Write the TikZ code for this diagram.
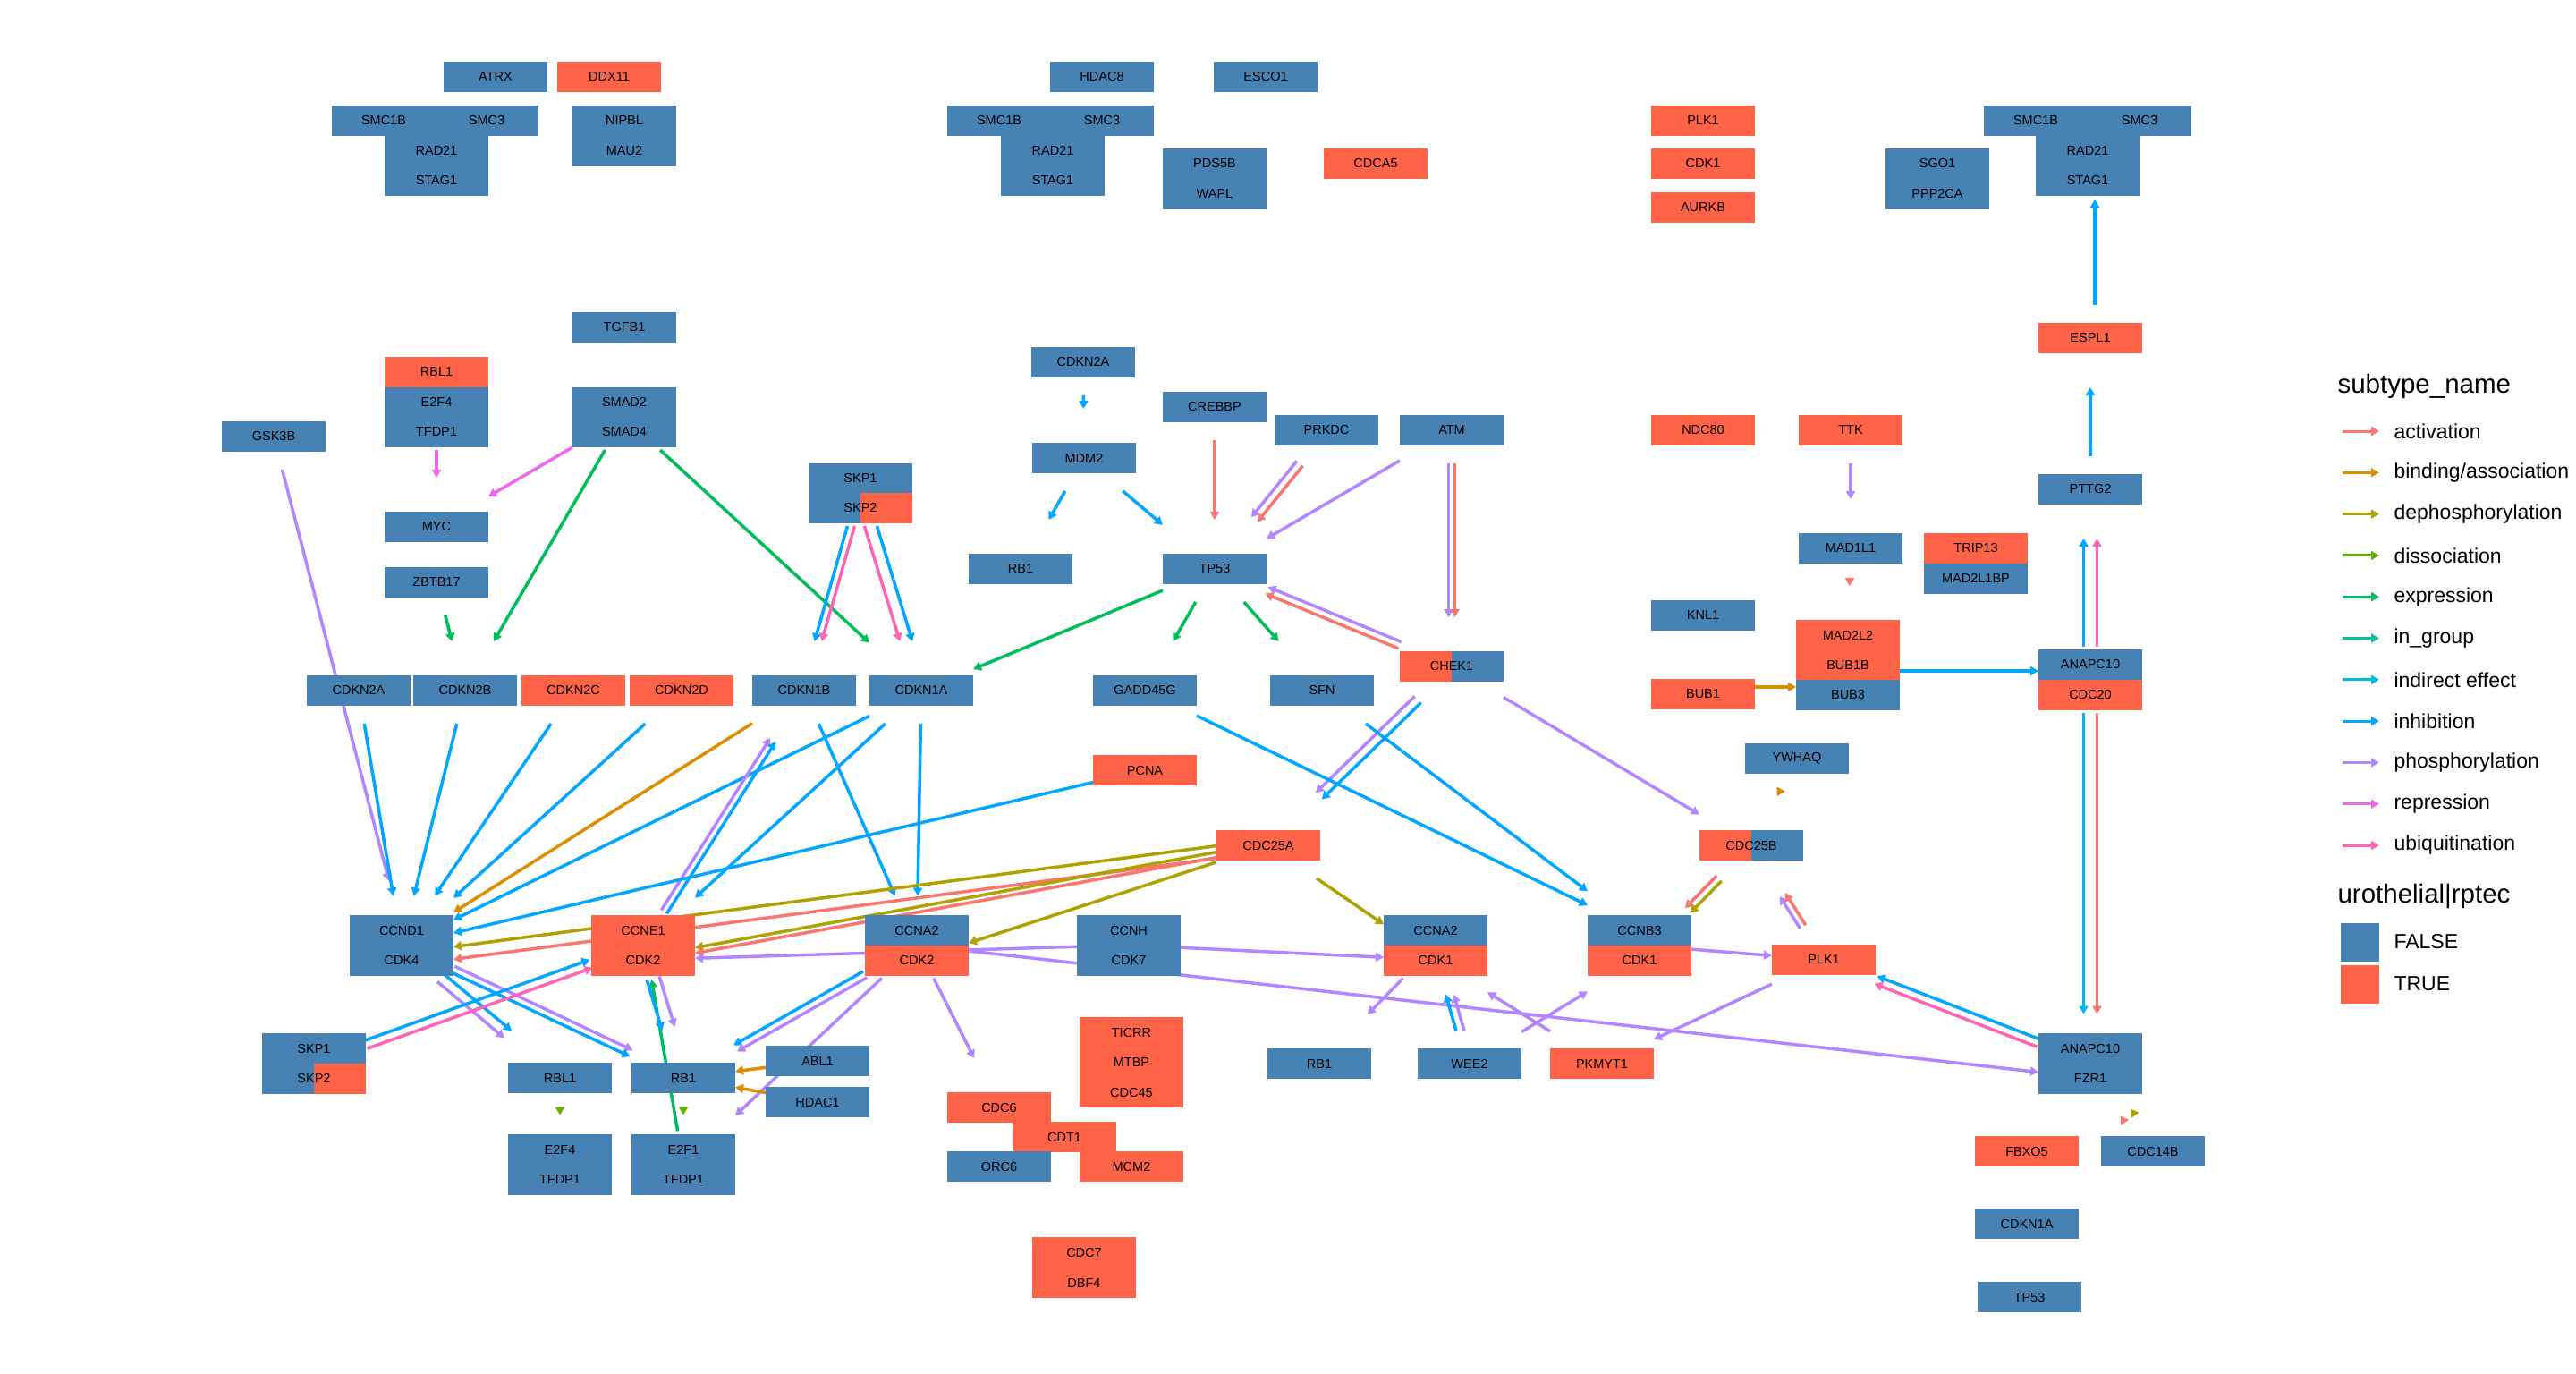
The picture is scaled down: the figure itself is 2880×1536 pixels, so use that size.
\documentclass[tikz,border=0pt]{standalone}
\usepackage{fontspec}
\setmainfont{Liberation Sans}
\usetikzlibrary{arrows.meta}

\definecolor{colF}{HTML}{4682B4}
\definecolor{colT}{HTML}{FF6347}
\definecolor{cAct}{HTML}{F8766D}
\definecolor{cBind}{HTML}{DB8E00}
\definecolor{cDeph}{HTML}{AEA200}
\definecolor{cDiss}{HTML}{64B200}
\definecolor{cExpr}{HTML}{00BD5C}
\definecolor{cGrp}{HTML}{00C1A7}
\definecolor{cInd}{HTML}{00BADE}
\definecolor{cInh}{HTML}{00A6FF}
\definecolor{cPhos}{HTML}{B385FF}
\definecolor{cRep}{HTML}{EF67EB}
\definecolor{cUbi}{HTML}{FF63B6}

\tikzset{
  gene/.style={rectangle, minimum width=116pt, minimum height=34pt, inner sep=0pt,
    text=black, font=\fontsize{14.5}{16}\selectfont},
  gF/.style={gene, fill=colF},
  gT/.style={gene, fill=colT},
  gsplit/.style 2 args={gene, fill=#1, path picture={
      \fill[#2] (path picture bounding box.south) rectangle (path picture bounding box.north east);}},
  capout/.style={rectangle, minimum width=116pt, minimum height=74pt, inner sep=0pt, outer sep=0pt},
  capin/.style={rectangle, minimum width=116pt, minimum height=110pt, inner sep=0pt, outer sep=0pt},
  edge/.style={line width=3.5pt, -{Triangle[length=9pt,width=10pt]}},
  act/.style={edge, draw=cAct},
  bind/.style={edge, draw=cBind},
  deph/.style={edge, draw=cDeph},
  diss/.style={edge, draw=cDiss},
  expr/.style={edge, draw=cExpr},
  indir/.style={edge, draw=cInd},
  inhib/.style={edge, draw=cInh},
  phos/.style={edge, draw=cPhos},
  repr/.style={edge, draw=cRep},
  ubiq/.style={edge, draw=cUbi},
  off/.style={transform canvas={shift={(#1)}}},
  legtext/.style={anchor=west, font=\fontsize{23}{26}\selectfont},
  legtitle/.style={anchor=west, font=\fontsize{29.5}{32}\selectfont},
}

\begin{document}
\begin{tikzpicture}[x=1pt, y=-1pt]
    \useasboundingbox[fill=white] (0,0) rectangle (2880,1536);

    % caps round each end of the edges
    \foreach \n/\x/\y in {hE2F/488/466, hSMAD/698/466, hMYC/488/589, hZBTB/488/651,
        hGSK/306/488, hSKPa/962/551, hN2A/401/772, hN2B/520/772, hN2C/641/772,
        hN2D/762/772, hN1B/899/772, hN1A/1030/772, hN2Atop/1211/405, hMDM2/1212/512,
        hCREB/1358/455, hPRKDC/1483/481, hATM/1623/481, hRBa/1141/636, hTP53/1358/636,
        hGADD/1280/772, hSFN/1478/772, hCHEK/1623/745, hPCNA/1280/861, hC25A/1418/945,
        hC25B/1958/945, hYWHAQ/2009/848, hTTK/2069/481, hMAD1/2069/613, hMAD2L2/2066/710,
        hMADc/2066/750, hBUB3/2066/776, hBUB1/1904/776, hAPC/2337/759.5, hAPCh/2337/750,
        hPTTG/2337/547, hESPL/2337/378, hSMC/2337/168, hCCND/449/1056.5, hCCND1/449/1040,
        hCDK4/449/1073, hCCNE/719/1056.5, hCCNEk/719/1073, hCCNE1/719/1040,
        hCCNAa/1025/1056.5, hCCNAak/1025/1073, hCCNH/1262/1056.5, hCCNAb/1605/1056.5,
        hCCNAbk/1605/1073, hCCNB/1833/1056.5, hCCNBk/1833/1073, hCCNB3/1833/1040,
        hPLK/2039/1073, hSKPb/351/1188.5, hRBLb/626/1205, hRBb/764/1205, hABL/914/1186,
        hHDAC/914/1232, hE2F4b/626/1301.5, hE2F1/764/1301.5, hCDC6/1117/1238,
        hRBc/1475/1189, hWEE/1643/1189, hPKM/1791/1189, hFZR/2337/1188.5,
        hFZR1/2337/1205, hC14B/2407/1287} {
        \node[capout] (\n) at (\x,\y) {};
        \node[capin] (\n-in) at (\x,\y) {};
    }

    % edges
    \draw[repr] (hE2F) -- (hMYC-in);
    \draw[repr] (hSMAD) -- (hMYC-in);
    \draw[expr] (hSMAD) -- (hN2B-in);
    \draw[expr] (hSMAD) -- (hN1A-in);
    \draw[expr] (hZBTB) -- (hN2B-in);
    \draw[inhib, off={-4,0}] (hSKPa) -- (hN1B-in);
    \draw[ubiq, off={4,0}] (hSKPa) -- (hN1B-in);
    \draw[ubiq, off={-7,0}] (hSKPa) -- (hN1A-in);
    \draw[inhib, off={7,0}] (hSKPa) -- (hN1A-in);
    \draw[phos] (hGSK) -- (hCCND1-in);
    \draw[inhib] (hN2A) -- (hCCND-in);
    \draw[inhib] (hN2B) -- (hCCND-in);
    \draw[inhib] (hN2C) -- (hCCND-in);
    \draw[inhib] (hN2D) -- (hCCND-in);
    \draw[bind] (hN1B) -- (hCCND-in);
    \draw[inhib] (hN1A) -- (hCCND-in);
    \draw[inhib] (hN1A) -- (hCCNE-in);
    \draw[inhib] (hN1B) -- (hCCNAa-in);
    \draw[inhib] (hN1A) -- (hCCNAa-in);
    \draw[phos, off={-3,-2}] (hCCNE) -- (hN1B-in);
    \draw[inhib, off={3,2}] (hCCNE) -- (hN1B-in);
    \draw[inhib] (hPCNA) -- (hCCND-in);
    \draw[phos, off={-4,4}] (hCCND) -- (hRBLb-in);
    \draw[inhib, off={4,-4}] (hCCND) -- (hRBLb-in);
    \draw[phos, off={1.5,-3.5}] (hCCND) -- (hRBb-in);
    \draw[inhib, off={-1.5,3.5}] (hCCND) -- (hRBb-in);
    \draw[inhib, off={-1.5,-4.5}] (hSKPb) -- (hCCNE-in);
    \draw[ubiq, off={1.5,4.5}] (hSKPb) -- (hCCNE-in);
    \draw[expr] (hE2F1) -- (hCCNE1-in);
    \draw[phos, off={7,-2}] (hCCNE) -- (hRBb-in);
    \draw[inhib, off={-7,2}] (hCCNE) -- (hRBb-in);
    \draw[deph, off={0,-7}] (hC25A) -- (hCDK4-in);
    \draw[act, off={0,7}] (hC25A) -- (hCDK4-in);
    \draw[deph, off={0,-3}] (hC25A) -- (hCCNEk-in);
    \draw[act, off={0,3}] (hC25A) -- (hCCNEk-in);
    \draw[deph] (hC25A) -- (hCCNAak-in);
    \draw[deph] (hC25A) -- (hCCNAbk-in);
    \draw[phos] (hCCNH) -- (hCCNEk-in);
    \draw[phos] (hCCNH) -- (hCCNAbk-in);
    \draw[phos] (hCCNAa) -- (hFZR1-in);
    \draw[phos] (hCCNAa) -- (hCDC6-in);
    \draw[inhib, off={-2,-3.5}] (hCCNAa) -- (hRBb-in);
    \draw[phos, off={2,3.5}] (hCCNAa) -- (hRBb-in);
    \draw[phos] (hCCNAa) -- (hE2F1-in);
    \draw[bind] (hABL) -- (hRBb-in);
    \draw[bind] (hHDAC) -- (hRBb-in);
    \draw[diss] (hRBLb) -- (hE2F4b-in);
    \draw[diss] (hRBb) -- (hE2F1-in);
    \draw[phos] (hCCNAb) -- (hRBc-in);
    \draw[inhib, off={-4.5,0}] (hWEE) -- (hCCNAb-in);
    \draw[phos, off={4.5,0}] (hWEE) -- (hCCNAb-in);
    \draw[phos] (hWEE) -- (hCCNBk-in);
    \draw[phos] (hPKM) -- (hCCNAbk-in);
    \draw[phos] (hPLK) -- (hPKM-in);
    \draw[phos, off={-3,1.9}] (hPLK) -- (hC25B-in);
    \draw[act, off={3,-1.9}] (hPLK) -- (hC25B-in);
    \draw[act, off={-2.8,-2.8}] (hC25B) -- (hCCNBk-in);
    \draw[deph, off={2.8,2.8}] (hC25B) -- (hCCNBk-in);
    \draw[phos] (hCCNB) -- (hPLK-in);
    \draw[inhib, off={1.6,-4.2}] (hFZR) -- (hPLK-in);
    \draw[ubiq, off={-1.6,4.2}] (hFZR) -- (hPLK-in);
    \draw[indir, off={-7.5,0}] (hAPC) -- (hFZR-in);
    \draw[act, off={7.5,0}] (hAPC) -- (hFZR-in);
    \draw[inhib, off={-7.5,0}] (hAPC) -- (hPTTG-in);
    \draw[ubiq, off={7.5,0}] (hAPC) -- (hPTTG-in);
    \draw[inhib] (hPTTG) -- (hESPL-in);
    \draw[inhib, off={5,0}] (hESPL) -- (hSMC-in);
    \draw[bind, off={0,-8}] (hBUB1) -- (hBUB3-in);
    \draw[inhib] (hMADc) -- (hAPCh-in);
    \draw[phos] (hTTK) -- (hMAD1-in);
    \draw[act] (hMAD1) -- (hMAD2L2-in);
    \draw[inhib] (hN2Atop) -- (hMDM2-in);
    \draw[inhib] (hMDM2) -- (hRBa-in);
    \draw[inhib] (hMDM2) -- (hTP53-in);
    \draw[act] (hCREB) -- (hTP53-in);
    \draw[phos, off={-3.3,-2.7}] (hPRKDC) -- (hTP53-in);
    \draw[act, off={3.3,2.7}] (hPRKDC) -- (hTP53-in);
    \draw[phos] (hATM) -- (hTP53-in);
    \draw[phos, off={-3.5,0}] (hATM) -- (hCHEK-in);
    \draw[act, off={3.5,0}] (hATM) -- (hCHEK-in);
    \draw[act, off={-1.5,3.7}] (hCHEK) -- (hTP53-in);
    \draw[phos, off={1.5,-3.7}] (hCHEK) -- (hTP53-in);
    \draw[phos, off={-3.5,-3.6}] (hCHEK) -- (hC25A-in);
    \draw[inhib, off={3.5,3.6}] (hCHEK) -- (hC25A-in);
    \draw[phos] (hCHEK) -- (hC25B-in);
    \draw[expr] (hTP53) -- (hN1A-in);
    \draw[expr] (hTP53) -- (hGADD-in);
    \draw[expr] (hTP53) -- (hSFN-in);
    \draw[inhib] (hGADD) -- (hCCNB3-in);
    \draw[inhib] (hSFN) -- (hCCNB3-in);
    \draw[bind] (hYWHAQ) -- (hC25B-in);
    \draw[deph, off={5.7,-4}] (hC14B) -- (hFZR-in);
    \draw[act, off={-5.7,4}] (hC14B) -- (hFZR-in);

    % genes
    \node[gF] (atrx) at (554,86) {ATRX};
    \node[gT] (ddx11) at (681,86) {DDX11};
    \node[gF] (smc1bA) at (429,135) {SMC1B};
    \node[gF] (smc3A) at (544,135) {SMC3};
    \node[gF] (rad21A) at (488,168.5) {RAD21};
    \node[gF] (stag1A) at (488,202) {STAG1};
    \node[gF] (nipbl) at (698,135) {NIPBL};
    \node[gF] (mau2) at (698,168.5) {MAU2};
    \node[gF] (hdac8) at (1232,86) {HDAC8};
    \node[gF] (esco1) at (1415,86) {ESCO1};
    \node[gF] (smc1bB) at (1117,135) {SMC1B};
    \node[gF] (smc3B) at (1232,135) {SMC3};
    \node[gF] (rad21B) at (1177,168.5) {RAD21};
    \node[gF] (stag1B) at (1177,202) {STAG1};
    \node[gF] (pds5b) at (1358,183) {PDS5B};
    \node[gF] (wapl) at (1358,216.5) {WAPL};
    \node[gT] (cdca5) at (1538,183) {CDCA5};
    \node[gT] (plk1A) at (1904,135) {PLK1};
    \node[gT] (cdk1A) at (1904,183) {CDK1};
    \node[gT] (aurkb) at (1904,232) {AURKB};
    \node[gF] (sgo1) at (2166,183) {SGO1};
    \node[gF] (ppp2ca) at (2166,216.5) {PPP2CA};
    \node[gF] (smc1bC) at (2276,135) {SMC1B};
    \node[gF] (smc3C) at (2392,135) {SMC3};
    \node[gF] (rad21C) at (2334,168.5) {RAD21};
    \node[gF] (stag1C) at (2334,202) {STAG1};
    \node[gT] (espl1) at (2337,378) {ESPL1};
    \node[gF] (tgfb1) at (698,366) {TGFB1};
    \node[gT] (rbl1A) at (488,416) {RBL1};
    \node[gF] (e2f4A) at (488,449.5) {E2F4};
    \node[gF] (tfdp1A) at (488,483) {TFDP1};
    \node[gF] (smad2) at (698,449.5) {SMAD2};
    \node[gF] (smad4) at (698,483) {SMAD4};
    \node[gF] (gsk3b) at (306,488) {GSK3B};
    \node[gF] (cdkn2aA) at (1211,405) {CDKN2A};
    \node[gF] (crebbp) at (1358,455) {CREBBP};
    \node[gF] (prkdc) at (1483,481) {PRKDC};
    \node[gF] (atm) at (1623,481) {ATM};
    \node[gT] (ndc80) at (1904,481) {NDC80};
    \node[gT] (ttk) at (2069,481) {TTK};
    \node[gF] (mdm2) at (1212,512) {MDM2};
    \node[gF] (skp1A) at (962,534.5) {SKP1};
    \node[gsplit={colF}{colT}] (skp2A) at (962,568) {SKP2};
    \node[gF] (pttg2) at (2337,547) {PTTG2};
    \node[gF] (myc) at (488,589) {MYC};
    \node[gF] (mad1l1) at (2069,613) {MAD1L1};
    \node[gT] (trip13) at (2209,613) {TRIP13};
    \node[gF] (mad2l1bp) at (2209,646.5) {MAD2L1BP};
    \node[gF] (rb1A) at (1141,636) {RB1};
    \node[gF] (tp53A) at (1358,636) {TP53};
    \node[gF] (zbtb17) at (488,651) {ZBTB17};
    \node[gF] (knl1) at (1904,688) {KNL1};
    \node[gT] (mad2l2) at (2066,710) {MAD2L2};
    \node[gT] (bub1b) at (2066,743.5) {BUB1B};
    \node[gF] (bub3) at (2066,777) {BUB3};
    \node[gsplit={colT}{colF}] (chek1) at (1623,745) {CHEK1};
    \node[gF] (anapc10A) at (2337,743) {ANAPC10};
    \node[gT] (cdc20) at (2337,776.5) {CDC20};
    \node[gT] (bub1) at (1904,776) {BUB1};
    \node[gF] (cdkn2aB) at (401,772) {CDKN2A};
    \node[gF] (cdkn2b) at (520,772) {CDKN2B};
    \node[gT] (cdkn2c) at (641,772) {CDKN2C};
    \node[gT] (cdkn2d) at (762,772) {CDKN2D};
    \node[gF] (cdkn1bA) at (899,772) {CDKN1B};
    \node[gF] (cdkn1aA) at (1030,772) {CDKN1A};
    \node[gF] (gadd45g) at (1280,772) {GADD45G};
    \node[gF] (sfn) at (1478,772) {SFN};
    \node[gF] (ywhaq) at (2009,848) {YWHAQ};
    \node[gT] (pcna) at (1280,861) {PCNA};
    \node[gT] (cdc25a) at (1418,945) {CDC25A};
    \node[gsplit={colT}{colF}] (cdc25b) at (1958,945) {CDC25B};
    \node[gF] (ccnd1) at (449,1040) {CCND1};
    \node[gF] (cdk4) at (449,1073.5) {CDK4};
    \node[gT] (ccne1) at (719,1040) {CCNE1};
    \node[gT] (cdk2A) at (719,1073.5) {CDK2};
    \node[gF] (ccna2A) at (1025,1040) {CCNA2};
    \node[gT] (cdk2B) at (1025,1073.5) {CDK2};
    \node[gF] (ccnh) at (1262,1040) {CCNH};
    \node[gF] (cdk7) at (1262,1073.5) {CDK7};
    \node[gF] (ccna2B) at (1605,1040) {CCNA2};
    \node[gT] (cdk1B) at (1605,1073.5) {CDK1};
    \node[gF] (ccnb3) at (1833,1040) {CCNB3};
    \node[gT] (cdk1C) at (1833,1073.5) {CDK1};
    \node[gT] (plk1B) at (2039,1073) {PLK1};
    \node[gT] (ticrr) at (1265,1154) {TICRR};
    \node[gT] (mtbp) at (1265,1187.5) {MTBP};
    \node[gT] (cdc45) at (1265,1221) {CDC45};
    \node[gF] (skp1B) at (351,1172) {SKP1};
    \node[gsplit={colF}{colT}] (skp2B) at (351,1205.5) {SKP2};
    \node[gF] (abl1) at (914,1186) {ABL1};
    \node[gF] (hdac1) at (914,1232) {HDAC1};
    \node[gF] (rbl1B) at (626,1205) {RBL1};
    \node[gF] (rb1B) at (764,1205) {RB1};
    \node[gF] (rb1C) at (1475,1189) {RB1};
    \node[gF] (wee2) at (1643,1189) {WEE2};
    \node[gT] (pkmyt1) at (1791,1189) {PKMYT1};
    \node[gF] (anapc10B) at (2337,1172) {ANAPC10};
    \node[gF] (fzr1) at (2337,1205.5) {FZR1};
    \node[gT] (cdc6) at (1117,1238) {CDC6};
    \node[gT] (cdt1) at (1190,1271) {CDT1};
    \node[gF] (orc6) at (1117,1304) {ORC6};
    \node[gT] (mcm2) at (1265,1304) {MCM2};
    \node[gF] (e2f4B) at (626,1285) {E2F4};
    \node[gF] (tfdp1B) at (626,1318.5) {TFDP1};
    \node[gF] (e2f1) at (764,1285) {E2F1};
    \node[gF] (tfdp1C) at (764,1318.5) {TFDP1};
    \node[gT] (fbxo5) at (2266,1287) {FBXO5};
    \node[gF] (cdc14b) at (2407,1287) {CDC14B};
    \node[gF] (cdkn1aB) at (2266,1368) {CDKN1A};
    \node[gF] (tp53B) at (2269,1450) {TP53};
    \node[gT] (cdc7) at (1212,1400) {CDC7};
    \node[gT] (dbf4) at (1212,1434) {DBF4};

    % legend
    \node[legtitle] (legEdge) at (2610,432) {subtype\_name};
    \foreach \lab/\col [count=\i from 0] in {activation/cAct, {binding/association}/cBind,
        dephosphorylation/cDeph, dissociation/cDiss, expression/cExpr, in\_group/cGrp,
        indirect effect/cInd, inhibition/cInh, phosphorylation/cPhos, repression/cRep,
        ubiquitination/cUbi} {
        \coordinate (ka\i) at (2619,482+46.3*\i);
        \coordinate (kb\i) at (2660,482+46.3*\i);
        \draw[edge, draw=\col, line width=3pt] (ka\i) -- (kb\i);
        \node[legtext] (kl\i) at (2673,482+46.3*\i) {\lab};
    }
    \node[legtitle] (legNode) at (2610,1002) {urothelial|rptec};
    \node[rectangle, fill=colF, minimum width=43pt, minimum height=43pt, inner sep=0pt] (keyF) at (2638.5,1053) {};
    \node[rectangle, fill=colT, minimum width=43pt, minimum height=43pt, inner sep=0pt] (keyT) at (2638.5,1100) {};
    \node[legtext] (labF) at (2673,1053) {FALSE};
    \node[legtext] (labT) at (2673,1100) {TRUE};
\end{tikzpicture}
\end{document}
